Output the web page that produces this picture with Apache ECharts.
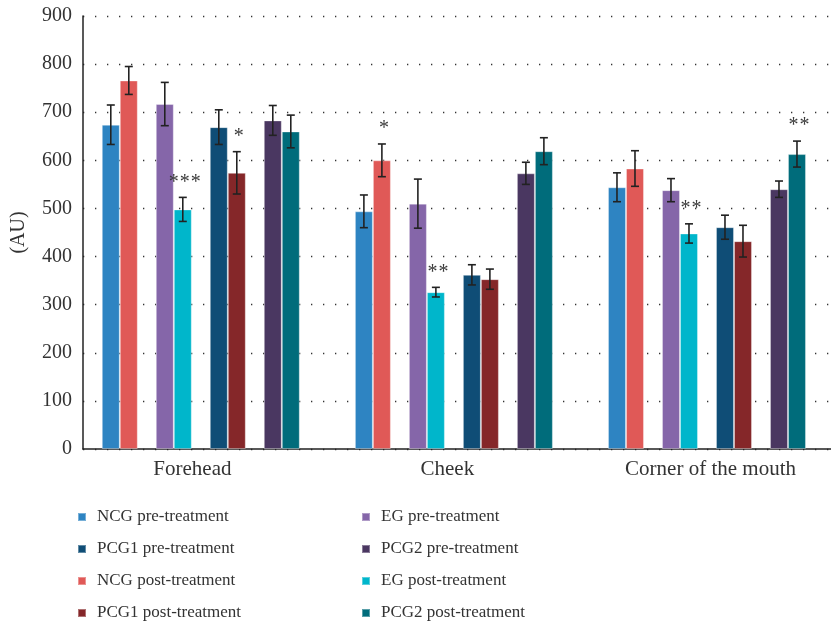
<!DOCTYPE html>
<html><head><meta charset="utf-8">
<script src="https://cdn.jsdelivr.net/npm/echarts@6/dist/echarts.min.js"></script>
<style>html,body{margin:0;padding:0;background:#fff}#c{width:831px;height:627px}</style>
</head><body><div id="c"></div>
<script>
const categories = ['Forehead', 'Cheek', 'Corner of the mouth'];
const yTicks = { min: 0, max: 900, step: 100 };

const ncgPre = [674, 494, 544];
const ncgPreErr = [41, 34, 30];
const ncgPost = [766, 600, 583];
const ncgPostErr = [29, 34, 37];
const egPre = [717, 510, 538];
const egPreErr = [45, 51, 24];
const egPost = [498, 326, 448];
const egPostErr = [25, 10, 20];
const pcg1Pre = [669, 362, 461];
const pcg1PreErr = [36, 21, 25];
const pcg1Post = [574, 353, 432];
const pcg1PostErr = [44, 21, 33];
const pcg2Pre = [683, 573, 540];
const pcg2PreErr = [31, 23, 17];
const pcg2Post = [660, 619, 613];
const pcg2PostErr = [34, 28, 27];

// significance marks: category index, series name, mark
const sigCategory = [0, 0, 1, 1, 2, 2];
const sigSeries = ['EG post-treatment', 'PCG1 post-treatment', 'NCG post-treatment', 'EG post-treatment', 'EG post-treatment', 'PCG2 post-treatment'];
const sigMark = ['***', '*', '*', '**', '**', '**'];

const FONT = 'Liberation Serif';
const BAR_W = 18;
const CAP = 4;
const STAR_STEP = 11;
// label anchor positions along the x axis (slightly off the group centres, as in the source)
const LABEL_SHIFT = [-0.033, -0.026, 0.014];

const groups = [
  { name: 'NCG pre-treatment', data: ncgPre, err: ncgPreErr, color: '#2E84C2' },
  { name: 'NCG post-treatment', data: ncgPost, err: ncgPostErr, color: '#E05957' },
  null,
  { name: 'EG pre-treatment', data: egPre, err: egPreErr, color: '#8566A9' },
  { name: 'EG post-treatment', data: egPost, err: egPostErr, color: '#00B6CB' },
  null,
  { name: 'PCG1 pre-treatment', data: pcg1Pre, err: pcg1PreErr, color: '#0F4D76' },
  { name: 'PCG1 post-treatment', data: pcg1Post, err: pcg1PostErr, color: '#852729' },
  null,
  { name: 'PCG2 pre-treatment', data: pcg2Pre, err: pcg2PreErr, color: '#4A3761' },
  { name: 'PCG2 post-treatment', data: pcg2Post, err: pcg2PostErr, color: '#006C7B' }
];
const NSLOT = groups.length;
const MID = (NSLOT - 1) / 2;

const series = [];
const errData = [];
groups.forEach((g, slot) => {
  if (!g) {
    series.push({ type: 'bar', name: 'spacer' + slot, data: categories.map((c, i) => [i, 0]),
      barWidth: BAR_W, barGap: '0%', itemStyle: { opacity: 0 }, silent: true });
    return;
  }
  series.push({
    type: 'bar', name: g.name, barWidth: BAR_W, barGap: '0%',
    data: g.data.map((v, i) => [i, v]),
    itemStyle: { color: g.color, borderColor: 'rgba(255,255,255,0.35)', borderWidth: 1 }
  });
  g.data.forEach((v, i) => errData.push([i, v - g.err[i], v + g.err[i], slot]));
});

const lineStyle = { stroke: '#222', lineWidth: 1.6 };
series.push({
  type: 'custom', name: 'err', z: 5,
  encode: { x: 0, y: [1, 2] },
  data: errData,
  renderItem(params, api) {
    const c = api.value(0), lo = api.value(1), hi = api.value(2), slot = api.value(3);
    const pLo = api.coord([c, lo]), pHi = api.coord([c, hi]);
    const x = pLo[0] + (slot - MID) * BAR_W;
    return { type: 'group', children: [
      { type: 'line', shape: { x1: x, y1: pHi[1], x2: x, y2: pLo[1] }, style: lineStyle },
      { type: 'line', shape: { x1: x - CAP, y1: pHi[1], x2: x + CAP, y2: pHi[1] }, style: lineStyle },
      { type: 'line', shape: { x1: x - CAP, y1: pLo[1], x2: x + CAP, y2: pLo[1] }, style: lineStyle }
    ] };
  }
});

const sigData = sigCategory.map((c, k) => {
  const slot = groups.findIndex(g => g && g.name === sigSeries[k]);
  const g = groups[slot];
  return [c, g.data[c] + g.err[c], slot];
});
series.push({
  type: 'custom', name: 'sig', z: 6,
  encode: { x: 0, y: 1 },
  data: sigData,
  renderItem(params, api) {
    const c = api.value(0), hi = api.value(1), slot = api.value(2);
    const p = api.coord([c, hi]);
    const mark = sigMark[params.dataIndex];
    const n = mark.length;
    const cx = p[0] + (slot - MID) * BAR_W + 2;
    const children = [];
    for (let j = 0; j < n; j++) {
      children.push({ type: 'text', style: { text: '*', x: cx + (j - (n - 1) / 2) * STAR_STEP, y: p[1] - 15,
        align: 'center', verticalAlign: 'middle', font: '20px "' + FONT + '"', fill: '#3a3a3a' } });
    }
    return { type: 'group', children };
  }
});

const legendCommon = {
  orient: 'vertical', itemWidth: 8, itemHeight: 8, itemGap: 12, padding: 0, icon: 'rect',
  top: 507,
  textStyle: { fontFamily: FONT, fontSize: 17, color: '#333', lineHeight: 20, padding: [0, 0, 0, 6] }
};

const chart = echarts.init(document.getElementById('c'), null, { renderer: 'canvas' });
chart.setOption({
  animation: false,
  backgroundColor: '#fff',
  textStyle: { fontFamily: FONT },
  grid: { left: 83, right: 0, top: 16, bottom: 178, containLabel: false },
  legend: [
    Object.assign({}, legendCommon, { left: 77, data: ['NCG pre-treatment', 'PCG1 pre-treatment', 'NCG post-treatment', 'PCG1 post-treatment'] }),
    Object.assign({}, legendCommon, { left: 361, data: ['EG pre-treatment', 'PCG2 pre-treatment', 'EG post-treatment', 'PCG2 post-treatment'] })
  ],
  xAxis: {
    type: 'value', min: -0.4654, max: 2.49,
    axisLine: { show: true, onZero: false, lineStyle: { color: '#222', width: 1.5 } },
    axisTick: { show: false },
    splitLine: { show: false },
    axisLabel: { customValues: categories.map((c, i) => i + LABEL_SHIFT[i]), formatter: v => categories[Math.round(v)],
      fontFamily: FONT, fontSize: 21, color: '#333', margin: 10 }
  },
  yAxis: {
    type: 'value', min: yTicks.min, max: yTicks.max, interval: yTicks.step,
    name: '(AU)', nameLocation: 'middle', nameGap: 54,
    nameTextStyle: { fontFamily: FONT, fontSize: 20, color: '#333' },
    axisLine: { show: true, onZero: false, lineStyle: { color: '#222', width: 1.5 } },
    axisTick: { show: false },
    axisLabel: { fontFamily: FONT, fontSize: 20, color: '#333', margin: 11 },
    splitLine: { show: true, lineStyle: { color: '#333', width: 1.3, type: [1.3, 10.7] } }
  },
  series: series
});
</script>
</body></html>
